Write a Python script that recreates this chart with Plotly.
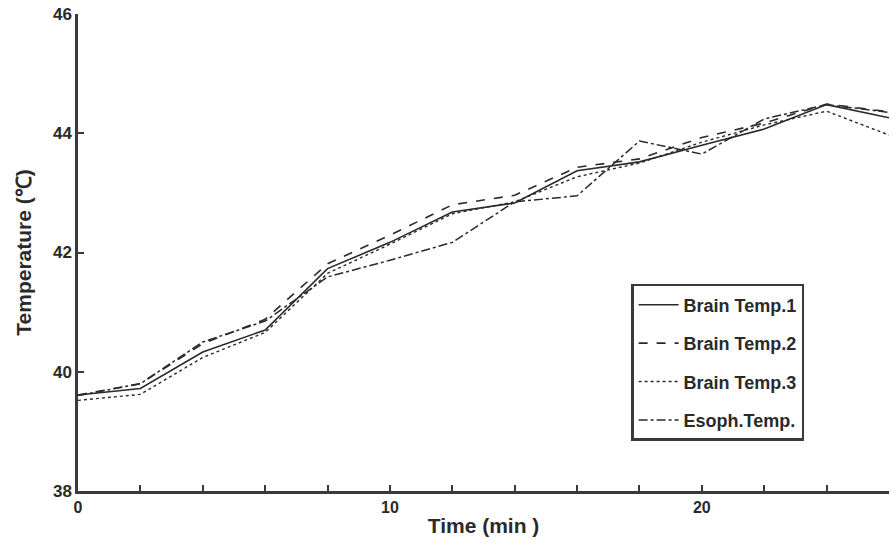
import plotly.graph_objects as go

time_min = [0, 2, 4, 6, 8, 10, 12, 14, 16, 18, 20, 22, 24, 26]
brain1 = [39.61, 39.72, 40.33, 40.70, 41.73, 42.17, 42.68, 42.83, 43.37, 43.52, 43.80, 44.07, 44.48, 44.26]
brain2 = [39.61, 39.80, 40.47, 40.88, 41.81, 42.29, 42.80, 42.96, 43.43, 43.57, 43.93, 44.17, 44.49, 44.36]
brain3 = [39.52, 39.62, 40.24, 40.66, 41.65, 42.14, 42.65, 42.85, 43.27, 43.50, 43.85, 44.14, 44.37, 43.97]
esoph = [39.60, 39.80, 40.50, 40.85, 41.59, 41.87, 42.17, 42.85, 42.95, 43.87, 43.65, 44.24, 44.48, 44.35]

series_names = ["Brain Temp.1", "Brain Temp.2", "Brain Temp.3", "Esoph.Temp."]
series_vals = [brain1, brain2, brain3, esoph]
dashes = ["solid", "dash", "dot", "dashdot"]
widths = [1.6, 1.6, 1.4, 1.5]

x_tickvals = [0, 10, 20]
y_tickvals = [38, 40, 42, 44, 46]

FONT = "Liberation Sans"
INK = "#2a2a2a"

fig = go.Figure()
for i, (name, vals, d, w) in enumerate(zip(series_names, series_vals, dashes, widths)):
    fig.add_trace(go.Scatter(
        x=time_min, y=vals, mode="lines", name=name,
        legendgroup=f"g{i}",
        line=dict(color=INK, width=w, dash=d),
    ))

fig.update_layout(
    width=892, height=550,
    margin=dict(l=78, r=3, t=14, b=59, autoexpand=False),
    paper_bgcolor="white", plot_bgcolor="white",
    font=dict(family=FONT, color=INK, size=16, weight="bold"),
    showlegend=True,
    legend=dict(
        x=0.682, y=0.434, xanchor="left", yanchor="top",
        bordercolor="#3a3a3a", borderwidth=2.5, bgcolor="white",
        font=dict(family=FONT, size=18, color=INK, weight="bold"),
        tracegroupgap=12,
        itemwidth=40,
    ),
    xaxis=dict(
        range=[0, 26], showgrid=False, zeroline=False,
        showline=True, linecolor="#3a3a3a", linewidth=2.5,
        tickmode="array", tickvals=x_tickvals, ticktext=[str(v) for v in x_tickvals],
        ticks="inside", ticklen=6, tickwidth=2, tickcolor="#3a3a3a",
        minor=dict(dtick=2, tick0=0, ticks="inside", ticklen=6, tickwidth=2, tickcolor="#3a3a3a", showgrid=False),
        tickfont=dict(family=FONT, size=16, color=INK, weight="bold"),
        title=dict(text="Time (min )", font=dict(family=FONT, size=21, color=INK, weight="bold"), standoff=4),
    ),
    yaxis=dict(
        range=[38, 46], showgrid=False, zeroline=False,
        showline=True, linecolor="#3a3a3a", linewidth=2.5,
        tickmode="array", tickvals=y_tickvals, ticktext=[str(v) for v in y_tickvals],
        ticks="inside", ticklen=6, tickwidth=2, tickcolor="#3a3a3a",
        tickfont=dict(family=FONT, size=17, color=INK, weight="bold"),
        title=dict(text="Temperature (℃)", font=dict(family=FONT, size=21, color=INK, weight="bold"), standoff=16),
    ),
)

# remove the browser's default 8px body margin so the figure sits at the page origin
fig.write_html("out.html", config={"displayModeBar": False},
               post_script="document.body.style.margin='0';")
